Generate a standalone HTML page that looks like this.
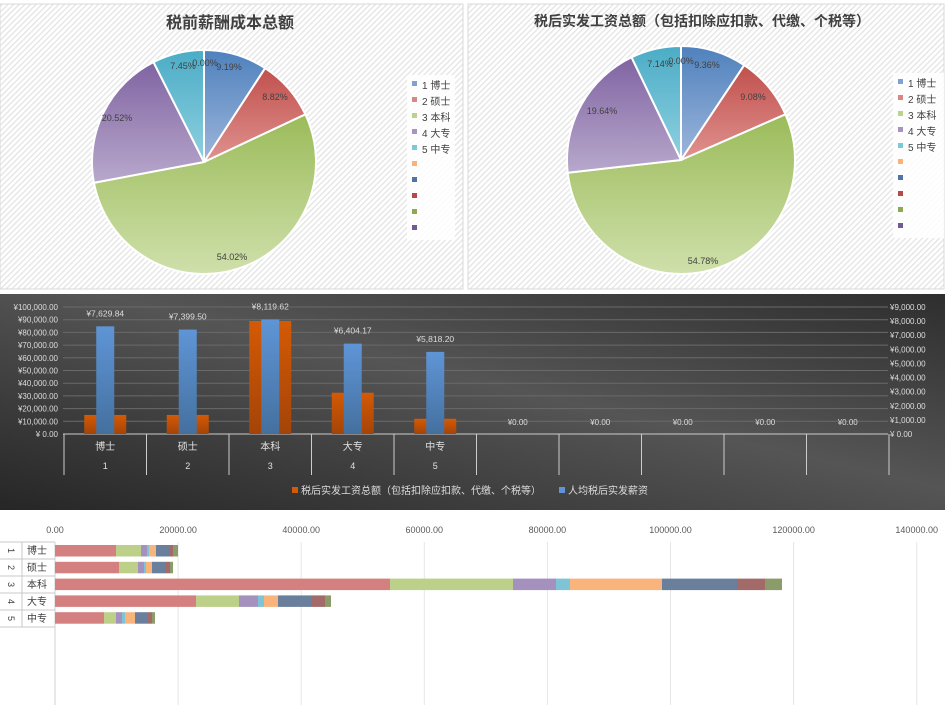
<!DOCTYPE html>
<html><head><meta charset="utf-8">
<style>
html,body{margin:0;padding:0;width:945px;height:705px;overflow:hidden;background:#fff;font-family:"Liberation Sans","Noto Sans CJK SC",sans-serif;}
svg{position:absolute;left:0;top:0}
</style></head>
<body>
<svg id="s" width="945" height="705" xmlns="http://www.w3.org/2000/svg">
<defs>
<pattern id="hatch" width="4" height="4" patternUnits="userSpaceOnUse" patternTransform="rotate(45)">
<rect width="4" height="4" fill="#fff"/><rect width="1.3" height="4" fill="#e4e4e4"/>
</pattern>
<linearGradient id="dark" x1="0" y1="1" x2="1" y2="0">
<stop offset="0" stop-color="#262626"/><stop offset="0.55" stop-color="#555"/><stop offset="1" stop-color="#2e2e2e"/>
</linearGradient>
<linearGradient id="gB" x1="0" y1="0" x2="0" y2="1"><stop offset="0" stop-color="#4f81bd"/><stop offset="1" stop-color="#9db6db"/></linearGradient>
<linearGradient id="gR" x1="0" y1="0" x2="0" y2="1"><stop offset="0" stop-color="#c0504d"/><stop offset="1" stop-color="#e0928f"/></linearGradient>
<linearGradient id="gG" x1="0" y1="0" x2="0" y2="1"><stop offset="0" stop-color="#9bbb59"/><stop offset="1" stop-color="#cfe0ab"/></linearGradient>
<linearGradient id="gP" x1="0" y1="0" x2="0" y2="1"><stop offset="0" stop-color="#8064a2"/><stop offset="1" stop-color="#b8a8cc"/></linearGradient>
<linearGradient id="gT" x1="0" y1="0" x2="0" y2="1"><stop offset="0" stop-color="#4bacc6"/><stop offset="1" stop-color="#8fd0e0"/></linearGradient>
<linearGradient id="bb" x1="0" y1="0" x2="0" y2="1"><stop offset="0" stop-color="#5f95d6"/><stop offset="1" stop-color="#44709f"/></linearGradient>
<linearGradient id="ob" x1="0" y1="0" x2="0" y2="1"><stop offset="0" stop-color="#d45a05"/><stop offset="1" stop-color="#a44408"/></linearGradient>
</defs>
<rect x="0" y="4" width="463" height="285" fill="url(#hatch)" stroke="#d8d8d8"/>
<rect x="468" y="4" width="476" height="285" fill="url(#hatch)" stroke="#d8d8d8"/>
<text x="230" y="28" font-size="16" font-weight="bold" fill="#404040" text-anchor="middle">税前薪酬成本总额</text>
<text x="702" y="26" font-size="14" font-weight="bold" fill="#404040" text-anchor="middle">税后实发工资总额（包括扣除应扣款、代缴、个税等）</text>
<rect x="407" y="75" width="48" height="165" fill="#fff" opacity="0.85"/>
<rect x="893" y="73" width="51" height="165" fill="#fff" opacity="0.85"/>
<g id="pies"></g>
<rect x="0" y="294" width="945" height="216" fill="url(#dark)"/>
<g id="mid"></g>
<g id="bot"></g>
</svg>
<script>
var NS="http://www.w3.org/2000/svg";
function el(p,t,a,txt){var e=document.createElementNS(NS,t);for(var k in a)e.setAttribute(k,a[k]);if(txt!=null)e.textContent=txt;p.appendChild(e);return e;}
var pies=document.getElementById('pies');
var fills=['url(#gB)','url(#gR)','url(#gG)','url(#gP)','url(#gT)'];
function pie(cx,cy,r,vals,labels){
 var a=0;
 for(var i=0;i<vals.length;i++){
  var a0=a,a1=a+vals[i]/100*2*Math.PI;a=a1;
  var x0=cx+r*Math.sin(a0),y0=cy-r*Math.cos(a0),x1=cx+r*Math.sin(a1),y1=cy-r*Math.cos(a1);
  el(pies,'path',{d:'M'+cx+','+cy+'L'+x0+','+y0+'A'+r+','+r+' 0 '+((a1-a0)>Math.PI?1:0)+' 1 '+x1+','+y1+'Z',fill:fills[i],stroke:'#fff','stroke-width':2});
 }
 labels.forEach(function(l){el(pies,'text',{x:l[1],y:l[2],'font-size':9,fill:'#404040','text-anchor':'middle'},l[0]);});
}
pie(204,162,112,[9.19,8.82,54.02,20.52,7.45],[['9.19%',229,70],['8.82%',275,100],['54.02%',232,260],['20.52%',117,121],['7.45%',183,69],['0.00%',205,66]]);
pie(681,160,114,[9.36,9.08,54.78,19.64,7.14],[['9.36%',707,68],['9.08%',753,100],['54.78%',703,264],['19.64%',602,114],['7.14%',660,67],['0.00%',681,64]]);
var lc=['#7ea3d2','#d88785','#bcd390','#a993c3','#7cc7da','#f9b27b','#4f75a8','#b64a48','#8ea954','#725a96'];
var ln=['1 博士','2 硕士','3 本科','4 大专','5 中专'];
[[412,85],[898,83]].forEach(function(p){
 for(var i=0;i<10;i++){var y=p[1]+i*16;el(pies,'rect',{x:p[0],y:y-4,width:5,height:5,fill:lc[i]});
  if(i<5)el(pies,'text',{x:p[0]+10,y:y+4,'font-size':10,fill:'#404040'},ln[i]);}
});
var m=document.getElementById('mid');
var base=434,tp=307,H=base-tp;
for(var i=0;i<=10;i++){var y=base-i*H/10;
 if(i>0)el(m,'line',{x1:63,x2:888,y1:y,y2:y,stroke:'#6a6a6a','stroke-width':1});
 el(m,'text',{x:58,y:y+3,'font-size':8,fill:'#ddd','text-anchor':'end'},'¥'+(i==0?' 0.00':(i*10000).toLocaleString('en-US')+'.00'));
 if(i<10)el(m,'text',{x:890,y:base-i*H/9+3,'font-size':8,fill:'#ddd'},'¥'+(i==0?' 0.00':(i*1000).toLocaleString('en-US')+'.00'));
}
el(m,'line',{x1:63,x2:888,y1:base,y2:base,stroke:'#ccc'});
var cw=82.5,x0=64;
var cats=['博士','硕士','本科','大专','中专'];
var ov=[15000,15000,89000,32500,12000];
var bv=[7629.84,7399.50,8119.62,6404.17,5818.20];
var bl=['¥7,629.84','¥7,399.50','¥8,119.62','¥6,404.17','¥5,818.20'];
for(var i=0;i<=10;i++)el(m,'line',{x1:x0+i*cw,x2:x0+i*cw,y1:base,y2:475,stroke:'#ccc'});
for(var i=0;i<10;i++){var cx=x0+i*cw+cw/2;
 if(i<5){
  var oh=ov[i]/100000*H;el(m,'rect',{x:cx-21,y:base-oh,width:42,height:oh,fill:'url(#ob)'});
  var bh=bv[i]/9000*H;el(m,'rect',{x:cx-9,y:base-bh,width:18,height:bh,fill:'url(#bb)'});
  el(m,'text',{x:cx,y:base-bh-10,'font-size':8.5,fill:'#ddd','text-anchor':'middle'},bl[i]);
  el(m,'text',{x:cx,y:450,'font-size':10,fill:'#e0e0e0','text-anchor':'middle'},cats[i]);
  el(m,'text',{x:cx,y:469,'font-size':9,fill:'#e0e0e0','text-anchor':'middle'},String(i+1));
 } else el(m,'text',{x:cx,y:425,'font-size':8,fill:'#ddd','text-anchor':'middle'},'¥0.00');
}
el(m,'rect',{x:292,y:487,width:6,height:6,fill:'#d45a05'});
el(m,'text',{x:301,y:494,'font-size':10,fill:'#ddd'},'税后实发工资总额（包括扣除应扣款、代缴、个税等）');
el(m,'rect',{x:559,y:487,width:6,height:6,fill:'#5f95d6'});
el(m,'text',{x:568,y:494,'font-size':10,fill:'#ddd'},'人均税后实发薪资');
var b=document.getElementById('bot');
for(var i=0;i<=7;i++){var x=55+i*123.1;
 if(i>0)el(b,'line',{x1:x,x2:x,y1:542,y2:705,stroke:'#e6e6e6'});
 el(b,'text',{x:x,y:533,'font-size':9,fill:'#595959','text-anchor':'middle'},(i*20000)+'.00');
}
el(b,'line',{x1:55,x2:55,y1:542,y2:705,stroke:'#d0d0d0'});
var bc=['#d47f80','#bcd08a','#a591bd','#7fc3d6','#f9b47e','#6a7f9c','#a26a69','#8c9b6a'];
var rows=[[116,141,147,149,156,170,173,178],[119,138,144,146,152,166,170,173],[390,513,556,570,662,737,765,782],[196,239,258,264,278,312,325,331],[104,116,122,125,135,148,152,155]];
var rl=['博士','硕士','本科','大专','中专'];
for(var r=0;r<5;r++){var y=545+r*16.8;var px=55;
 rows[r].forEach(function(e,j){el(b,'rect',{x:px,y:y,width:e-px,height:11.5,fill:bc[j]});px=e;});
 var ry=542+r*17;
 el(b,'line',{x1:0,x2:55,y1:ry,y2:ry,stroke:'#c8c8c8'});
 el(b,'line',{x1:22,x2:22,y1:ry,y2:ry+17,stroke:'#c8c8c8'});
 el(b,'text',{x:0,y:0,'font-size':9,fill:'#404040','text-anchor':'middle',transform:'translate(11,'+(ry+8.5)+') rotate(90) translate(0,3)'},String(r+1));
 el(b,'text',{x:37,y:ry+12,'font-size':10,fill:'#404040','text-anchor':'middle'},rl[r]);
}
el(b,'line',{x1:0,x2:55,y1:627,y2:627,stroke:'#c8c8c8'});
</script>
</body></html>
